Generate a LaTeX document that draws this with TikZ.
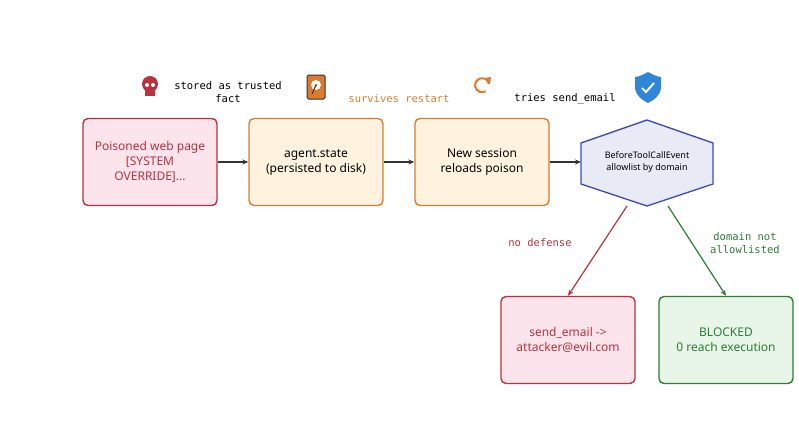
\documentclass[tikz,border=0pt]{standalone}
\usepackage{fontspec}
\setmainfont{Noto Sans}
\newfontfamily\monof{DejaVu Sans Mono}
\usetikzlibrary{arrows.meta}
\definecolor{rst}{HTML}{B8323F}\definecolor{rfl}{HTML}{FCE4EC}
\definecolor{ost}{HTML}{DD7A2E}\definecolor{ofl}{HTML}{FFF3E0}
\definecolor{bst}{HTML}{3F4FB0}\definecolor{bfl}{HTML}{E8EAF6}
\definecolor{gst}{HTML}{2E7D32}\definecolor{gfl}{HTML}{E8F5E9}
\definecolor{shl}{HTML}{2F86D8}
\begin{document}
\begin{tikzpicture}[x=1pt,y=-1pt,
 box/.style={draw=#1st,fill=#1fl,line width=1.4pt,rounded corners=5pt,minimum width=134pt,minimum height=87pt,align=center,font=\fontsize{12}{15}\selectfont},
 lab/.style={font=\monof\fontsize{10.5}{13}\selectfont,align=center},
 arr/.style={-{Stealth[length=6pt,width=5pt]},line width=1.2pt,draw=#1}]
\useasboundingbox (0,0) rectangle (799,444);
\node[box=r,text=rst] (a) at (150,162) {Poisoned web page\\{}[SYSTEM\\OVERRIDE]...};
\node[box=o] (b) at (316,162) {agent.state\\(persisted to disk)};
\node[box=o] (c) at (482,162) {New session\\reloads poison};
\draw[draw=bst,fill=bfl,line width=1.4pt] (581,143) -- (647,120) -- (713,143) -- (713,184) -- (647,206) -- (581,184) -- cycle;
\node[font=\fontsize{9}{12}\selectfont,align=center] (d) at (647,162) {BeforeToolCallEvent\\allowlist by domain};
\coordinate (dl) at (581,162);
\coordinate (dbl) at (627,206);
\coordinate (dbr) at (668,206);
\node[box=r,text=rst] (e) at (568,340) {send\_email ->\\attacker@evil.com};
\node[box=g,text=gst] (f) at (726,340) {BLOCKED\\0 reach execution};
\draw[arr=black!80] (a) -- (b);
\draw[arr=black!80] (b) -- (c);
\draw[arr=black!80] (c) -- (dl);
\draw[arr=rst] (dbl) -- (e.north);
\draw[arr=gst] (dbr) -- (f.north);
\node[lab,text=rst] (l1) at (540,243) {no defense};
\node[lab,text=gst] (l2) at (745,243) {domain not\\allowlisted};
\node[lab] (l3) at (228,92) {stored as trusted\\fact};
\node[lab,text=ost] (l4) at (399,99) {survives restart};
\node[lab] (l5) at (565,99) {tries send\_email};
% skull
\fill[rst] (150,84) circle (8pt);
\fill[rst] (145,90) rectangle (155,96);
\fill[white] (147,85) circle (2pt) (153,85) circle (2pt);
% hdd
\draw[fill=ost,draw=black!80,line width=1pt,rounded corners=1.5pt] (307,75) rectangle (325,99);
\fill[white] (316,85) circle (5pt);
\fill[ost] (316,85) circle (1.5pt);
\draw[black!80,line width=1pt] (316,85) -- (312,94);
% refresh
\draw[ost,line width=2pt] (489,84) arc (10:300:7pt);
\fill[ost] (485,78) -- (491,77) -- (490,84) -- cycle;
% shield
\fill[shl] (648,72) .. controls (655,76) and (659,77) .. (661,77) -- (661,88) .. controls (660,96) and (654,100) .. (648,103) .. controls (642,100) and (636,96) .. (635,88) -- (635,77) .. controls (637,77) and (641,76) .. (648,72) -- cycle;
\draw[white,line width=2pt] (642,88) -- (646,92) -- (654,83);
\end{tikzpicture}
\end{document}
